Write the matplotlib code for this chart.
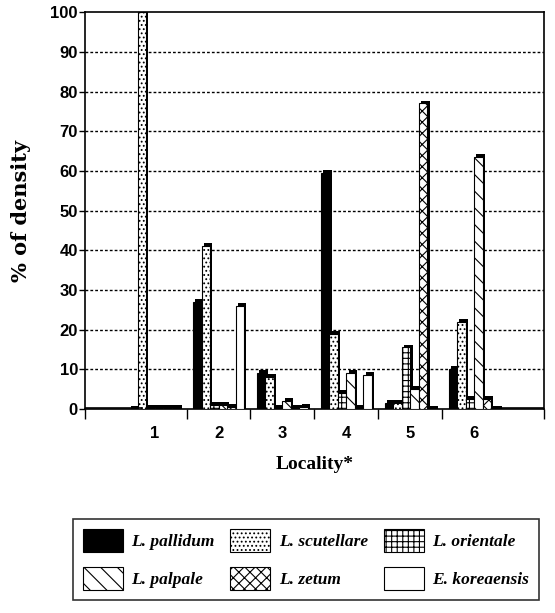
import numpy as np
import matplotlib.pyplot as plt
from matplotlib.patches import Patch

localities = [1, 2, 3, 4, 5, 6]
species = ["L. pallidum", "L. scutellare", "L. orientale",
           "L. palpale", "L. zetum", "E. koreaensis"]

pallidum = [0, 27, 9, 59.5, 1.5, 10]
scutellare = [100, 41, 8, 19, 1.5, 22]
orientale = [0.3, 1, 0.3, 4, 15.5, 2.5]
palpale = [0.3, 1, 2, 9, 5, 63.5]
zetum = [0.3, 0.5, 0.3, 0.3, 77, 2.5]
koreaensis = [0.3, 26, 0.5, 8.5, 0, 0]

series = [pallidum, scutellare, orientale, palpale, zetum, koreaensis]
colors = ["black", "white", "white", "white", "white", "white"]
hatches = [None, "....", "+++", "\\\\", "xxx", None]

plt.rcParams['hatch.linewidth'] = 0.8

fig = plt.figure(figsize=(5.55, 6.13), dpi=100)
ax = fig.add_axes([0.153, 0.333, 0.827, 0.647])

x = np.array(localities, dtype=float)
w = 0.133
for k, vals in enumerate(series):
    pos = x + (k - 2.5) * w
    # shadow for the 3d look
    ax.bar(pos + 0.035, np.array(vals) + 0.7, width=w, bottom=0,
           color="black", zorder=2)
    ax.bar(pos, vals, width=w, color=colors[k], hatch=hatches[k],
           edgecolor="black", linewidth=0.8, zorder=3)

# empty floor at both ends
ax.plot([-0.09, 0.8], [0.3, 0.3], color="black", lw=1.2, zorder=3)
ax.plot([6.4, 7.09], [0.3, 0.3], color="black", lw=1.2, zorder=3)

ax.set_xlim(-0.09, 7.09)
ax.set_ylim(0, 100)
ax.set_yticks(range(0, 101, 10))
ax.set_yticklabels([str(v) for v in range(0, 101, 10)],
                   fontsize=12, fontweight="bold", family="Liberation Sans")
ax.set_xticks([-0.09, 1.5, 2.5, 3.5, 4.5, 5.5, 7.09])
ax.set_xticklabels([])
ax.set_xticks(localities, minor=True)
ax.set_xticklabels([str(v) for v in localities], minor=True,
                   fontsize=12, fontweight="bold", family="Liberation Sans")
ax.tick_params(axis="x", which="major", length=7, width=1, direction="out")
ax.tick_params(axis="x", which="minor", length=0, pad=12)
ax.tick_params(axis="y", length=4, width=1, pad=1)

for v in range(10, 100, 10):
    ax.axhline(v, color="black", lw=1, ls=(0, (2, 1.5)), zorder=1)

for s in ax.spines.values():
    s.set_linewidth(1.2)

ax.set_ylabel("% of density", fontsize=15, fontweight="bold",
              family="DejaVu Serif", labelpad=14)
ax.set_xlabel("Locality*", fontsize=14, fontweight="bold",
              family="Liberation Serif", labelpad=11)

handles = [Patch(facecolor=colors[k], hatch=hatches[k], edgecolor="black",
                 linewidth=0.8, label=species[k]) for k in range(6)]
# reorder so the rows read across
order = [0, 3, 1, 4, 2, 5]
leg = fig.legend([handles[i] for i in order], [species[i] for i in order],
                 ncol=3, loc="upper left", bbox_to_anchor=(0.132, 0.153),
                 borderaxespad=0, frameon=True, fancybox=False,
                 edgecolor="black", handlelength=2.3, handleheight=1.7,
                 columnspacing=0.9, handletextpad=0.5, labelspacing=0.85,
                 borderpad=0.55,
                 prop={"family": "Liberation Serif", "style": "italic",
                       "weight": "bold", "size": 12.5})
leg.get_frame().set_linewidth(1.2)

fig.savefig("out.png", dpi=100)
